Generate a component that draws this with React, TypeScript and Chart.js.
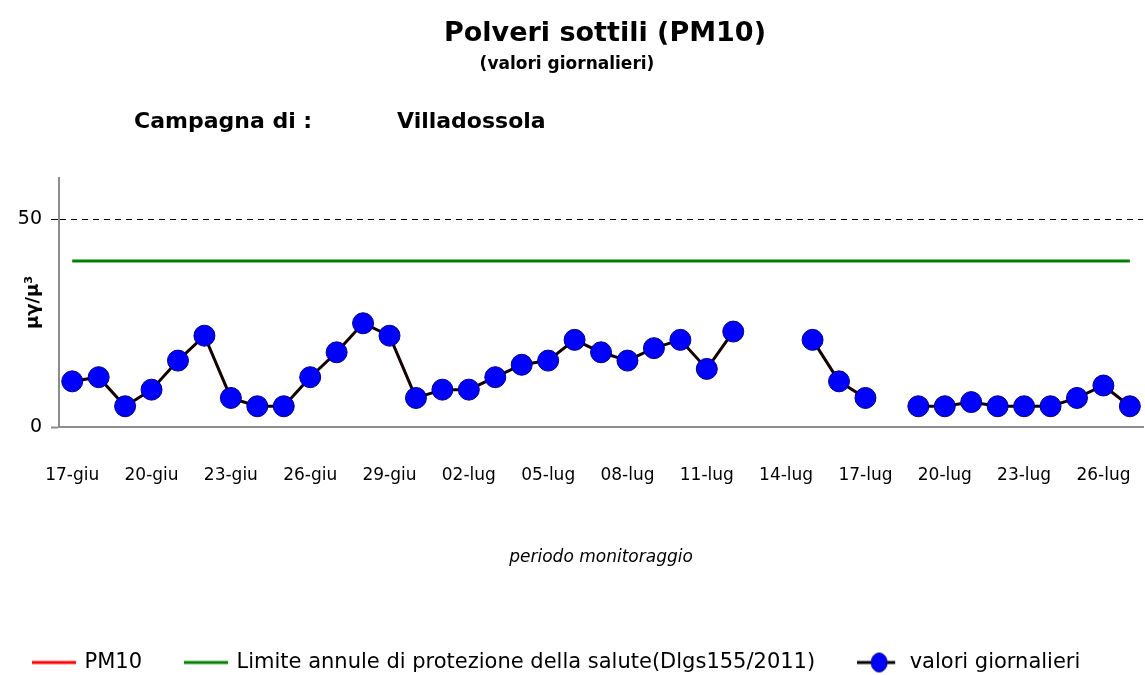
import React, { useEffect, useRef } from 'react';
import { Chart, registerables } from 'chart.js';

Chart.register(...registerables);

// ---- data ----
const categories: string[] = [
  '17-giu', '18-giu', '19-giu', '20-giu', '21-giu', '22-giu', '23-giu', '24-giu', '25-giu', '26-giu',
  '27-giu', '28-giu', '29-giu', '30-giu', '01-lug', '02-lug', '03-lug', '04-lug', '05-lug', '06-lug',
  '07-lug', '08-lug', '09-lug', '10-lug', '11-lug', '12-lug', '13-lug', '14-lug', '15-lug', '16-lug',
  '17-lug', '18-lug', '19-lug', '20-lug', '21-lug', '22-lug', '23-lug', '24-lug', '25-lug', '26-lug',
  '27-lug',
];

const tickLabels: string[] = [
  '17-giu', '20-giu', '23-giu', '26-giu', '29-giu', '02-lug', '05-lug', '08-lug', '11-lug', '14-lug',
  '17-lug', '20-lug', '23-lug', '26-lug',
];

const dailyValues: (number | null)[] = [
  11, 12, 5, 9, 16, 22, 7, 5, 5, 12,
  18, 25, 22, 7, 9, 9, 12, 15, 16, 21,
  18, 16, 19, 21, 14, 23, null, null, 21, 11,
  7, null, 5, 5, 6, 5, 5, 5, 7, 10,
  5,
];

const limitValues: number[] = [
  40, 40, 40, 40, 40, 40, 40, 40, 40, 40,
  40, 40, 40, 40, 40, 40, 40, 40, 40, 40,
  40, 40, 40, 40, 40, 40, 40, 40, 40, 40,
  40, 40, 40, 40, 40, 40, 40, 40, 40, 40,
  40,
];

const pm10Values: (number | null)[] = [];

const yTickValues: number[] = [0, 50];

const seriesLabels: string[] = [
  'PM10',
  'Limite annule di protezione della salute(Dlgs155/2011)',
  'valori giornalieri',
];

const titleText = 'Polveri sottili (PM10)';
const subtitleText = '(valori giornalieri)';
const campagnaText = 'Campagna di :';
const placeText = 'Villadossola';

const CW = 1160;
const CH = 683;

export default function App() {
  const ref = useRef<HTMLCanvasElement | null>(null);

  useEffect(() => {
    if (!ref.current) return;

    const mkIcon = (draw: (ctx: CanvasRenderingContext2D) => void) => {
      const c = document.createElement('canvas');
      c.width = 44;
      c.height = 22;
      const cx = c.getContext('2d') as CanvasRenderingContext2D;
      draw(cx);
      return c;
    };
    const lineIcon = (color: string) =>
      mkIcon((cx) => {
        cx.strokeStyle = color;
        cx.lineWidth = 3;
        cx.beginPath();
        cx.moveTo(0, 11);
        cx.lineTo(44, 11);
        cx.stroke();
      });
    const icons = [
      lineIcon('#ff0000'),
      lineIcon('#008000'),
      mkIcon((cx) => {
        cx.strokeStyle = '#000000';
        cx.lineWidth = 3;
        cx.beginPath();
        cx.moveTo(0, 11);
        cx.lineTo(38, 11);
        cx.stroke();
        cx.fillStyle = '#0000ff';
        cx.strokeStyle = '#000080';
        cx.lineWidth = 1;
        cx.beginPath();
        cx.ellipse(22, 11, 8, 9.5, 0, 0, Math.PI * 2);
        cx.fill();
        cx.stroke();
      }),
    ];

    const headerPlugin = {
      id: 'header',
      afterLayout(chart: any) {
        if (chart.legend) {
          chart.legend.left = -10;
        }
      },
      afterDraw(chart: any) {
        const ctx = chart.ctx as CanvasRenderingContext2D;
        ctx.save();
        ctx.fillStyle = '#000';
        ctx.textBaseline = 'middle';
        ctx.textAlign = 'center';
        ctx.font = 'bold 27px "DejaVu Sans"';
        ctx.fillText(titleText, 605, 34);
        ctx.font = 'bold 17px "DejaVu Sans"';
        ctx.fillText(subtitleText, 567, 65);
        ctx.textAlign = 'left';
        ctx.font = 'bold 22px "DejaVu Sans"';
        ctx.fillText(campagnaText, 134, 122);
        ctx.fillText(placeText, 397, 122);
        ctx.restore();
      },
    };

    const chart = new Chart(ref.current, {
      type: 'line',
      data: {
        labels: categories,
        datasets: [
          {
            label: seriesLabels[0],
            data: pm10Values,
            borderColor: '#ff0000',
            backgroundColor: '#ff0000',
            borderWidth: 3,
            pointRadius: 0,
          },
          {
            label: seriesLabels[1],
            data: limitValues,
            borderColor: '#008000',
            backgroundColor: '#008000',
            borderWidth: 3,
            pointRadius: 0,
          },
          {
            label: seriesLabels[2],
            data: dailyValues,
            borderColor: '#140000',
            backgroundColor: '#0000ff',
            borderWidth: 3,
            pointRadius: 10.5,
            pointBackgroundColor: '#0000ff',
            pointBorderColor: '#000080',
            pointBorderWidth: 1,
            spanGaps: false,
          },
        ],
      },
      options: {
        responsive: false,
        animation: false,
        devicePixelRatio: 1,
        layout: { padding: { left: 0, right: 11, top: 178, bottom: 0 } },
        plugins: {
          title: { display: false },
          tooltip: { enabled: false },
          legend: {
            position: 'bottom',
            align: 'start',
            labels: {
              usePointStyle: true,
              pointStyleWidth: 40,
              padding: 44,
              color: '#000',
              font: { family: '"DejaVu Sans"', size: 21 },
              generateLabels: (ch: any) =>
                ch.data.datasets.map((ds: any, i: number) => ({
                  text: ds.label,
                  pointStyle: icons[i],
                  fillStyle: 'rgba(0,0,0,0)',
                  strokeStyle: 'rgba(0,0,0,0)',
                  lineWidth: 0,
                  hidden: false,
                  datasetIndex: i,
                  fontColor: '#000',
                })),
            },
          },
        },
        scales: {
          x: {
            offset: true,
            grid: { display: false },
            border: { display: true, color: '#8c8c8c', width: 2 },
            ticks: {
              autoSkip: false,
              maxRotation: 0,
              minRotation: 0,
              padding: 30,
              color: '#000',
              font: { family: '"DejaVu Sans"', size: 17 },
              callback: (_v: any, i: number) => {
                const l = categories[i];
                return tickLabels.includes(l) ? l : '';
              },
            },
            title: {
              display: true,
              text: 'periodo monitoraggio',
              color: '#000',
              font: { family: '"DejaVu Sans"', size: 17, style: 'italic' },
              padding: { top: 0, bottom: 40 },
            },
            afterFit: (s: any) => {
              s.height = 181;
            },
          },
          y: {
            min: 0,
            max: 60,
            afterBuildTicks: (s: any) => {
              s.ticks = yTickValues.map((v) => ({ value: v }));
            },
            grid: {
              color: (c: any) => (c.tick && c.tick.value === 50 ? '#000000' : 'rgba(0,0,0,0)'),
              tickColor: (c: any) => (c.tick && c.tick.value === 50 ? '#000000' : '#8c8c8c'),
              tickLength: 8,
              lineWidth: 1,
              tickWidth: (c: any) => (c.tick && c.tick.value === 50 ? 1 : 2),
            },
            border: { display: true, color: '#8c8c8c', width: 2, dash: [6, 5] },
            ticks: {
              padding: 9,
              color: '#000',
              font: { family: '"DejaVu Sans"', size: 19 },
            },
            title: {
              display: true,
              text: 'μγ/μ³',
              color: '#000',
              font: { family: '"DejaVu Sans"', size: 18, weight: 'bold' },
              padding: { top: 23, bottom: 0 },
            },
            afterFit: (s: any) => {
              s.width = 59;
            },
          },
        },
      },
      plugins: [headerPlugin],
    } as any);

    return () => {
      chart.destroy();
    };
  }, []);

  return (
    <div
      style={{
        position: 'absolute',
        left: 0,
        top: 0,
        width: 1145,
        height: 675,
        overflow: 'hidden',
        background: '#fff',
      }}
    >
      <canvas ref={ref} width={CW} height={CH} style={{ width: CW, height: CH, display: 'block' }} />
    </div>
  );
}
